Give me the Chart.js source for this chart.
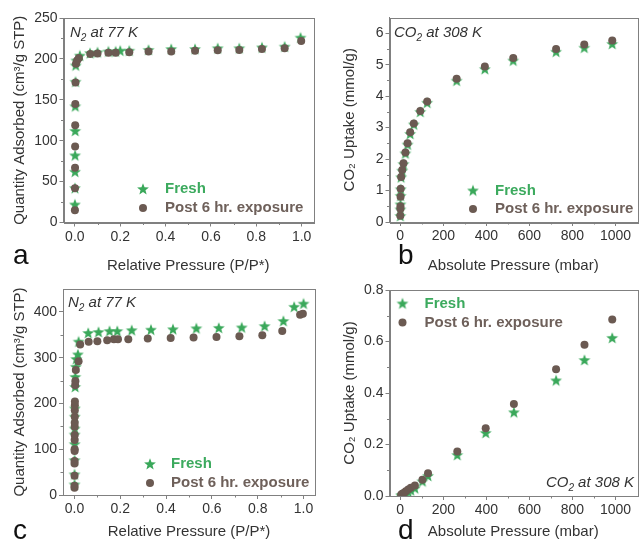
<!DOCTYPE html>
<html>
<head>
<meta charset="utf-8">
<script src="https://cdn.jsdelivr.net/npm/chart.js@4.4.1/dist/chart.umd.min.js"></script>
<style>
  html, body { margin: 0; padding: 0; background: #fff; }
  #wrap { position: relative; width: 643px; height: 541px; overflow: hidden; }
  canvas { position: absolute; }
</style>
</head>
<body>
<div id="wrap">
  <canvas id="pa" width="330" height="285" style="left:0;top:0"></canvas>
  <canvas id="pb" width="313" height="285" style="left:330px;top:0"></canvas>
  <canvas id="pc" width="330" height="271" style="left:0;top:270px"></canvas>
  <canvas id="pd" width="313" height="271" style="left:330px;top:270px"></canvas>
</div>
<script>
// ---- panel a: N2 at 77 K ----
const aFreshX = [0.0003, 0.0006, 0.0009, 0.0012, 0.0016, 0.002, 0.003, 0.004, 0.007, 0.022, 0.067, 0.1, 0.148, 0.18, 0.2, 0.24, 0.325, 0.425, 0.53, 0.63, 0.725, 0.825, 0.925, 0.995];
const aFreshY = [22, 42, 62, 82, 112, 142, 172, 192, 198, 204, 207, 208, 209, 209, 210, 210, 211, 212, 212, 213, 213, 214, 215, 226];
const aPostX = [0.0003, 0.0006, 0.0009, 0.0012, 0.0016, 0.002, 0.003, 0.005, 0.01, 0.018, 0.068, 0.1, 0.148, 0.18, 0.24, 0.325, 0.425, 0.53, 0.63, 0.725, 0.825, 0.925, 0.998];
const aPostY = [15, 42, 67, 93, 119, 145, 171, 194, 198, 201, 206, 206.5, 207.5, 207.5, 208, 209, 209, 210, 210.5, 211, 212, 213, 222];
const aTicksX = [0, 0.2, 0.4, 0.6, 0.8, 1.0];
const aMinorX = [0.1, 0.3, 0.5, 0.7, 0.9];
const aTicksY = [0, 50, 100, 150, 200, 250];
const aMinorY = [25, 75, 125, 175, 225];

// ---- panel b: CO2 at 308 K ----
const bX = [0.3, 0.7, 1, 1.5, 2, 4, 9, 15, 24, 34, 46, 63, 93, 125, 262, 393, 525, 724, 855, 985];
const bFreshY = [0.19, 0.4, 0.56, 0.83, 1.04, 1.42, 1.63, 1.84, 2.18, 2.46, 2.8, 3.1, 3.5, 3.79, 4.49, 4.86, 5.13, 5.41, 5.54, 5.66];
const bPostY = [0.2, 0.42, 0.5, 0.8, 1.06, 1.43, 1.65, 1.87, 2.21, 2.5, 2.85, 3.13, 3.53, 3.83, 4.55, 4.94, 5.21, 5.5, 5.64, 5.77];
const bTicksX = [0, 200, 400, 600, 800, 1000];
const bMinorX = [100, 300, 500, 700, 900];
const bTicksY = [0, 1, 2, 3, 4, 5, 6];
const bMinorY = [0.5, 1.5, 2.5, 3.5, 4.5, 5.5];

// ---- panel c: N2 at 77 K ----
const cFreshX = [0.0002, 0.0004, 0.0006, 0.0008, 0.001, 0.0012, 0.0015, 0.0018, 0.003, 0.004, 0.006, 0.008, 0.015, 0.018, 0.06, 0.105, 0.153, 0.187, 0.25, 0.334, 0.43, 0.532, 0.63, 0.73, 0.83, 0.912, 0.959, 1.0];
const cFreshY = [23, 45, 76, 111, 132, 145, 171, 189, 236, 258, 280, 297, 307, 335, 354, 356, 358, 358, 360, 361, 362, 364, 365, 366, 369, 380, 411, 418];
const cPostX = [0.0002, 0.0003, 0.0004, 0.0005, 0.0006, 0.0007, 0.0008, 0.0009, 0.001, 0.0011, 0.0012, 0.0013, 0.0015, 0.0017, 0.0019, 0.003, 0.004, 0.006, 0.018, 0.025, 0.062, 0.1, 0.143, 0.172, 0.19, 0.235, 0.32, 0.42, 0.52, 0.62, 0.72, 0.82, 0.907, 0.985, 0.997];
const cPostY = [16, 20, 42, 69, 74, 96, 100, 120, 131, 149, 158, 171, 185, 196, 204, 240, 249, 273, 292, 329, 335, 336, 338, 340, 340, 340, 342, 343, 344, 345, 347, 349, 358, 394, 396];
const cTicksX = [0, 0.2, 0.4, 0.6, 0.8, 1.0];
const cMinorX = [0.1, 0.3, 0.5, 0.7, 0.9];
const cTicksY = [0, 100, 200, 300, 400];
const cMinorY = [50, 150, 250, 350];

// ---- panel d: CO2 at 308 K ----
const dX = [4, 9, 18, 26, 37, 49, 68, 103, 129, 265, 397, 528, 724, 856, 985];
const dFreshY = [0.002, 0.004, 0.007, 0.011, 0.016, 0.022, 0.030, 0.057, 0.078, 0.159, 0.245, 0.325, 0.449, 0.528, 0.614];
const dPostY = [0.005, 0.009, 0.013, 0.018, 0.025, 0.032, 0.041, 0.063, 0.088, 0.173, 0.263, 0.357, 0.492, 0.587, 0.685];
const dTicksX = [0, 200, 400, 600, 800, 1000];
const dMinorX = [100, 300, 500, 700, 900];
const dTicksY = [0, 0.2, 0.4, 0.6, 0.8];
const dMinorY = [0.1, 0.3, 0.5, 0.7];

const FONT = "'Liberation Sans', Arial, sans-serif";
const GREEN = '#3aa85a';
const BROWN = '#6b5a52';
const GREEN_TXT = '#3caa5e';
const BROWN_TXT = '#6e605a';
const AXIS = '#808080';
const TXT = '#333333';

// filled five-point star used as point style
function makeStar(color) {
  const c = document.createElement('canvas');
  c.width = 14; c.height = 14;
  const g = c.getContext('2d');
  g.beginPath();
  for (let i = 0; i < 10; i++) {
    const r = i % 2 === 0 ? 6.2 : 2.6;
    const a = -Math.PI / 2 + i * Math.PI / 5;
    const x = 7 + r * Math.cos(a), y = 7.4 + r * Math.sin(a);
    i === 0 ? g.moveTo(x, y) : g.lineTo(x, y);
  }
  g.closePath();
  g.fillStyle = color;
  g.fill();
  return c;
}
const starImg = makeStar(GREEN);

function pts(xs, ys) {
  return xs.map((x, i) => ({ x: x, y: ys[i] }));
}

// draws "N" + sub "2" + rest in italic
function drawSubText(ctx, x, y, main, sub, rest, alignRight) {
  const big = 'italic 15px ' + FONT;
  const small = 'italic 10px ' + FONT;
  ctx.font = big;
  const w1 = ctx.measureText(main).width;
  const w3 = ctx.measureText(rest).width;
  ctx.font = small;
  const w2 = ctx.measureText(sub).width;
  let sx = alignRight ? x - (w1 + w2 + w3) : x;
  ctx.fillStyle = TXT;
  ctx.textAlign = 'left';
  ctx.textBaseline = 'alphabetic';
  ctx.font = big; ctx.fillText(main, sx, y);
  ctx.font = small; ctx.fillText(sub, sx + w1, y + 4);
  ctx.font = big; ctx.fillText(rest, sx + w1 + w2, y);
}

const decor = {
  id: 'decor',
  afterDraw(chart, args, o) {
    const ctx = chart.ctx;
    const ca = chart.chartArea;
    const sx = chart.scales.x, sy = chart.scales.y;
    ctx.save();
    // frame
    ctx.strokeStyle = AXIS;
    ctx.lineWidth = 1;
    ctx.strokeRect(Math.round(ca.left) + 0.5, Math.round(ca.top) + 0.5,
                   Math.round(ca.right - ca.left), Math.round(ca.bottom - ca.top));
    // minor ticks
    ctx.beginPath();
    o.minorX.forEach(v => {
      const px = Math.round(sx.getPixelForValue(v)) + 0.5;
      ctx.moveTo(px, ca.bottom); ctx.lineTo(px, ca.bottom + 2.5);
    });
    o.minorY.forEach(v => {
      const py = Math.round(sy.getPixelForValue(v)) + 0.5;
      ctx.moveTo(ca.left, py); ctx.lineTo(ca.left - 2.5, py);
    });
    ctx.stroke();
    // annotation
    const n = o.note;
    drawSubText(ctx, n.x, n.y, n.main, n.sub, n.rest, n.right);
    // legend
    const L = o.legend;
    ctx.drawImage(starImg, L.x - 7, L.y1 - 7);
    ctx.fillStyle = BROWN;
    ctx.beginPath(); ctx.arc(L.x, L.y2, 4, 0, Math.PI * 2); ctx.fill();
    ctx.font = 'bold 15px ' + FONT;
    ctx.textAlign = 'left';
    ctx.textBaseline = 'middle';
    ctx.fillStyle = GREEN_TXT;
    ctx.fillText('Fresh', L.tx, L.y1);
    ctx.fillStyle = BROWN_TXT;
    ctx.fillText('Post 6 hr. exposure', L.tx, L.y2);
    // panel letter
    ctx.font = '28px ' + FONT;
    ctx.fillStyle = '#111';
    ctx.textBaseline = 'alphabetic';
    ctx.fillText(o.letter.t, o.letter.x, o.letter.y);
    ctx.restore();
  }
};

function makePanel(id, p) {
  new Chart(document.getElementById(id), {
    type: 'scatter',
    data: {
      datasets: [
        {
          label: 'Post 6 hr. exposure',
          data: pts(p.postX, p.postY),
          pointStyle: 'circle',
          pointRadius: 4,
          backgroundColor: BROWN,
          borderWidth: 0
        },
        {
          label: 'Fresh',
          data: pts(p.freshX, p.freshY),
          pointStyle: starImg,
          pointRadius: 6,
          backgroundColor: GREEN,
          borderWidth: 0
        }
      ]
    },
    options: {
      responsive: false,
      animation: false,
      events: [],
      layout: { padding: { top: p.area.top, right: p.area.right, bottom: 0, left: 0 } },
      plugins: {
        legend: { display: false },
        tooltip: { enabled: false },
        decor: p.decor
      },
      scales: {
        x: {
          type: 'linear',
          min: p.xMin, max: p.xMax,
          afterBuildTicks: s => { s.ticks = p.ticksX.map(v => ({ value: v })); },
          afterFit: s => { s.height = p.area.xH; },
          grid: { drawOnChartArea: false, tickLength: 4, color: AXIS },
          border: { color: AXIS },
          ticks: {
            color: TXT, padding: 2, maxRotation: 0,
            font: { family: FONT, size: 14 },
            callback: p.fmtX
          },
          title: {
            display: true, text: p.titleX, color: TXT,
            font: { family: FONT, size: 15 },
            padding: { top: 0, bottom: p.area.xTitlePad }
          }
        },
        y: {
          type: 'linear',
          min: p.yMin, max: p.yMax,
          afterBuildTicks: s => { s.ticks = p.ticksY.map(v => ({ value: v })); },
          afterFit: s => { s.width = p.area.yW; },
          grid: { drawOnChartArea: false, tickLength: 4, color: AXIS },
          border: { color: AXIS },
          ticks: {
            color: TXT, padding: 2,
            font: { family: FONT, size: 14 },
            callback: p.fmtY
          },
          title: {
            display: true, text: p.titleY, color: TXT,
            font: { family: FONT, size: 15 },
            padding: { top: 11, bottom: 0 }
          }
        }
      }
    },
    plugins: [decor]
  });
}

const fmt1 = v => Number(v).toFixed(1);
const fmt0 = v => String(v);
const N2TITLE = 'Quantity Adsorbed (cm\u00B3/g STP)';
const CO2TITLE = 'CO\u2082 Uptake (mmol/g)';

makePanel('pa', {
  freshX: aFreshX, freshY: aFreshY, postX: aPostX, postY: aPostY,
  xMin: -0.05, xMax: 1.05, yMin: 0, yMax: 250,
  ticksX: aTicksX, ticksY: aTicksY, fmtX: fmt1, fmtY: fmt0,
  titleX: 'Relative Pressure (P/P*)', titleY: N2TITLE,
  area: { top: 18, right: 17, yW: 63.5, xH: 62.5, xTitlePad: 10 },
  decor: {
    minorX: aMinorX, minorY: aMinorY,
    note: { x: 70, y: 36.5, main: 'N', sub: '2', rest: ' at 77 K', right: false },
    legend: { x: 143, y1: 189, y2: 208, tx: 165 },
    letter: { t: 'a', x: 13, y: 264 }
  }
});

makePanel('pb', {
  freshX: bX, freshY: bFreshY, postX: bX, postY: bPostY,
  xMin: -50, xMax: 1100, yMin: 0, yMax: 6.5,
  ticksX: bTicksX, ticksY: bTicksY, fmtX: fmt0, fmtY: fmt0,
  titleX: 'Absolute Pressure (mbar)', titleY: CO2TITLE,
  area: { top: 17.5, right: 6, yW: 59.5, xH: 63, xTitlePad: 10 },
  decor: {
    minorX: bMinorX, minorY: bMinorY,
    note: { x: 64, y: 36.5, main: 'CO', sub: '2', rest: ' at 308 K', right: false },
    legend: { x: 143, y1: 190.5, y2: 209, tx: 165 },
    letter: { t: 'b', x: 68, y: 264 }
  }
});

makePanel('pc', {
  freshX: cFreshX, freshY: cFreshY, postX: cPostX, postY: cPostY,
  xMin: -0.05, xMax: 1.05, yMin: 0, yMax: 450,
  ticksX: cTicksX, ticksY: cTicksY, fmtX: fmt1, fmtY: fmt0,
  titleX: 'Relative Pressure (P/P*)', titleY: N2TITLE,
  area: { top: 19, right: 15, yW: 63, xH: 46, xTitlePad: 0 },
  decor: {
    minorX: cMinorX, minorY: cMinorY,
    note: { x: 68, y: 36.5, main: 'N', sub: '2', rest: ' at 77 K', right: false },
    legend: { x: 150, y1: 194, y2: 213, tx: 171 },
    letter: { t: 'c', x: 13, y: 539 - 270 }
  }
});

makePanel('pd', {
  freshX: dX, freshY: dFreshY, postX: dX, postY: dPostY,
  xMin: -50, xMax: 1100, yMin: 0, yMax: 0.8,
  ticksX: dTicksX, ticksY: dTicksY, fmtX: fmt0, fmtY: fmt1,
  titleX: 'Absolute Pressure (mbar)', titleY: CO2TITLE,
  area: { top: 20, right: 6, yW: 59.5, xH: 45, xTitlePad: 0 },
  decor: {
    minorX: dMinorX, minorY: dMinorY,
    note: { x: 304, y: 217, main: 'CO', sub: '2', rest: ' at 308 K', right: true },
    legend: { x: 72.5, y1: 33.5, y2: 52.5, tx: 94.5 },
    letter: { t: 'd', x: 68, y: 539 - 270 }
  }
});
</script>
</body>
</html>
